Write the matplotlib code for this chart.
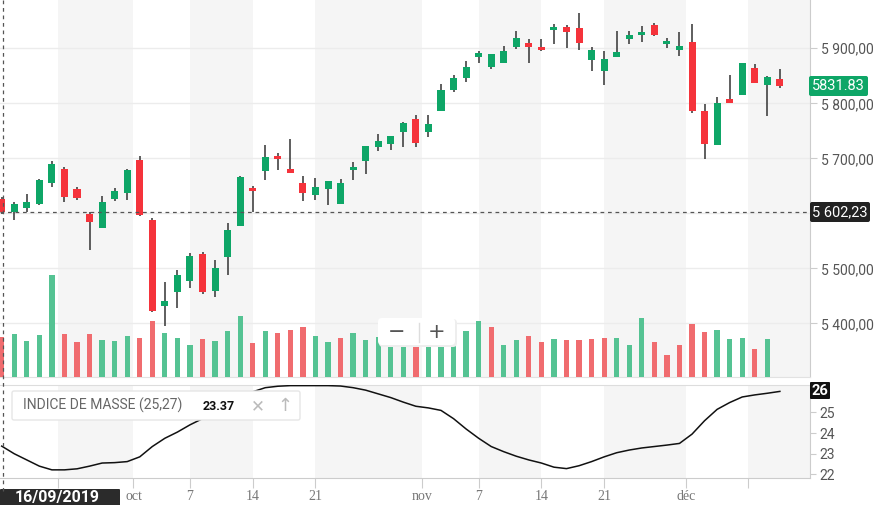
import numpy as np
import pandas as pd
import matplotlib
matplotlib.use('Agg')
import matplotlib.pyplot as plt
from matplotlib.patches import FancyBboxPatch
from matplotlib.lines import Line2D
from matplotlib.transforms import Affine2D

# trading days shown on the chart
dates = pd.bdate_range('2019-09-16', '2019-12-11')

opens = [5626, 5603, 5610, 5617, 5656, 5681, 5644, 5599, 5574, 5626,
         5637, 5697, 5588, 5432, 5457, 5477, 5526, 5459, 5520, 5577,
         5646, 5677, 5705, 5680, 5655, 5634, 5645, 5617, 5679, 5695,
         5721, 5726, 5748, 5771, 5748, 5786, 5824, 5846, 5885, 5866,
         5874, 5903, 5910, 5902, 5934, 5939, 5936, 5879, 5859, 5885,
         5917, 5924, 5942, 5907, 5896, 5911, 5786, 5725, 5807, 5815,
         5865, 5834, 5844]
highs = [5630, 5621, 5635, 5662, 5696, 5685, 5648, 5602, 5631, 5646,
         5680, 5704, 5591, 5475, 5497, 5527, 5530, 5516, 5583, 5668,
         5650, 5724, 5709, 5736, 5667, 5664, 5658, 5662, 5693, 5722,
         5745, 5741, 5766, 5778, 5779, 5835, 5851, 5877, 5895, 5890,
         5905, 5931, 5917, 5916, 5945, 5942, 5965, 5902, 5895, 5931,
         5932, 5940, 5946, 5918, 5929, 5945, 5799, 5812, 5851, 5873,
         5871, 5850, 5862]
lows = [5598, 5588, 5602, 5616, 5647, 5620, 5625, 5533, 5574, 5622,
        5625, 5595, 5421, 5395, 5427, 5465, 5453, 5447, 5488, 5577,
        5602, 5660, 5678, 5674, 5622, 5625, 5615, 5617, 5660, 5672,
        5713, 5716, 5721, 5720, 5739, 5786, 5820, 5838, 5873, 5862,
        5874, 5899, 5874, 5895, 5907, 5900, 5897, 5859, 5834, 5884,
        5908, 5911, 5923, 5900, 5886, 5782, 5698, 5725, 5801, 5815,
        5836, 5777, 5827]
closes = [5603, 5617, 5620, 5660, 5690, 5630, 5628, 5585, 5620, 5640,
          5679, 5597, 5422, 5440, 5488, 5522, 5457, 5500, 5570, 5666,
          5641, 5703, 5698, 5674, 5637, 5648, 5658, 5655, 5685, 5722,
          5731, 5740, 5765, 5728, 5762, 5824, 5846, 5866, 5892, 5889,
          5895, 5919, 5903, 5897, 5939, 5930, 5910, 5896, 5880, 5893,
          5925, 5930, 5925, 5914, 5904, 5786, 5726, 5800, 5801, 5873,
          5837, 5848, 5832]
last_price = 5831.83

# volume (relative units), last session has no bar yet
volumes = [40, 43, 36, 42, 102, 43, 35, 43, 37, 36,
           41, 39, 56, 44, 39, 32, 38, 36, 46, 61,
           34, 46, 44, 47, 50, 41, 35, 39, 44, 37,
           40, 42, 38, 59, 44, 40, 40, 46, 56, 50,
           32, 37, 41, 35, 38, 37, 37, 38, 39, 39,
           32, 59, 35, 22, 32, 53, 45, 47, 38, 39,
           28, 38]
vol_up = [0, 1, 1, 1, 1, 0, 0, 0, 1, 1,
          1, 0, 0, 1, 1, 1, 0, 1, 1, 1,
          0, 1, 0, 0, 0, 1, 1, 0, 1, 1,
          1, 1, 1, 0, 1, 1, 1, 1, 1, 0,
          1, 1, 0, 0, 1, 0, 0, 0, 0, 1,
          1, 1, 0, 0, 0, 0, 0, 1, 1, 1,
          0, 1]

mass_index = [23.37, 23.0, 22.7, 22.4, 22.22, 22.22, 22.27, 22.4, 22.55, 22.57,
              22.62, 22.85, 23.35, 23.75, 24.05, 24.4, 24.7, 25.0, 25.35, 25.7,
              26.0, 26.2, 26.27, 26.3, 26.3, 26.3, 26.3, 26.28, 26.2, 26.08,
              25.9, 25.72, 25.5, 25.3, 25.22, 25.1, 24.7, 24.2, 23.75, 23.35,
              23.1, 22.88, 22.7, 22.55, 22.35, 22.28, 22.42, 22.62, 22.85, 23.05,
              23.18, 23.28, 23.35, 23.42, 23.5, 23.95, 24.6, 25.15, 25.48, 25.75,
              25.85, 25.93, 26.02]

tick_dates = ['2019-09-21', '2019-10-01', '2019-10-07', '2019-10-14', '2019-10-21',
              '2019-11-01', '2019-11-07', '2019-11-14', '2019-11-21',
              '2019-12-01', '2019-12-07']
tick_labels = ['21', 'oct', '7', '14', '21', 'nov', '7', '14', '21', 'déc', '']

price_ticks = [5400, 5500, 5600, 5700, 5800, 5900]
mass_ticks = [22, 23, 24, 25]
cursor_price = 5602.23
cursor_mass = 23.37

GREEN = '#0ea667'
RED = '#f5333b'
VGREEN = '#55c393'
VRED = '#f06c6f'
BAND = '#f5f5f5'

plt.rcParams['font.family'] = ['Roboto', 'DejaVu Sans']


def fr_num(v):
    return f'{v:,.2f}'.replace(',', ' ').replace('.', ',')


W, H = 884, 505
fig = plt.figure(figsize=(W / 100, H / 100), dpi=100)
# pixel transform with origin top-left
T = Affine2D().scale(1, -1).translate(0, H).scale(0.01) + fig.dpi_scale_trans

ax = fig.add_axes([0, 1 - 377 / H, 810 / W, 377 / H])
axm = fig.add_axes([0, 1 - 477.7 / H, 810 / W, (477.7 - 385) / H])

x = np.arange(len(closes))
o = np.array(opens, float)
h = np.array(highs, float)
l = np.array(lows, float)
c = np.array(closes, float)
xlim = (-0.135, 64.4)

# tick positions: between sessions for month starts / weekend dates
tick_pos = []
for d in pd.to_datetime(tick_dates):
    k = dates.searchsorted(d)
    if d.day == 1 or d not in dates:
        tick_pos.append(k - 0.5)
    else:
        tick_pos.append(float(k))

edges = [xlim[0]] + tick_pos + [xlim[1]]
for a in (ax, axm):
    for k in range(len(edges) - 1):
        if k % 2 == 1:
            a.axvspan(edges[k], edges[k + 1], color=BAND, lw=0, zorder=0)
    a.set_xlim(*xlim)

# candles
ax.vlines(x, l, h, color='#333333', lw=1.1, zorder=2)
body = np.maximum(np.abs(c - o), 2.0)
ax.bar(x, body, bottom=np.minimum(o, c), width=0.56,
       color=np.where(c >= o, GREEN, RED), lw=0, zorder=3)
ax.axhline(cursor_price, color='#555555', lw=0.9, ls=(0, (3, 3)), zorder=4)
ax.set_ylim(5302.4, 5987.8)

# volume
axv = ax.twinx()
axv.bar(x[:len(volumes)], volumes, width=0.42,
        color=[VGREEN if u else VRED for u in vol_up], lw=0)
axv.set_ylim(0, max(volumes) * 3.7)
axv.axis('off')

ax.yaxis.tick_right()
ax.set_yticks(price_ticks)
ax.set_yticklabels(['' if v == 5600 else fr_num(v) for v in price_ticks])
ax.tick_params(axis='y', length=5, color='#cccccc', labelsize=10,
               labelcolor='#555555', pad=3)
ax.set_xticks([])
ax.grid(axis='y', color='#ececec', lw=1)
ax.set_axisbelow(True)
for s in ('top', 'left'):
    ax.spines[s].set_visible(False)
ax.spines['right'].set_color('#cccccc')
ax.spines['bottom'].set_color('#e2e2e2')

# mass index panel
axm.plot(x, mass_index, color='#111111', lw=1.1, zorder=3)
axm.set_ylim(21.84, 26.33)
axm.yaxis.tick_right()
axm.set_yticks(mass_ticks)
axm.tick_params(axis='y', length=4, color='#cccccc', labelsize=10,
                labelcolor='#555555', pad=3)
axm.set_xticks(tick_pos)
axm.set_xticklabels(tick_labels)
axm.tick_params(axis='x', length=7, color='#cccccc', labelsize=10,
                labelcolor='#777777', pad=2)
for lbl in axm.get_xticklabels():
    lbl.set_fontfamily(['Liberation Serif', 'DejaVu Serif'])
axm.spines['left'].set_visible(False)
axm.spines['top'].set_color('#dddddd')
axm.spines['bottom'].set_color('#cccccc')
axm.spines['right'].set_color('#cccccc')


# overlays
def box(x0, y0, w, hgt, fc, ec='none', r=2, lw=0):
    fig.add_artist(FancyBboxPatch((x0, y0), w, hgt,
                                  boxstyle=f'round,pad=0,rounding_size={r}',
                                  fc=fc, ec=ec, lw=lw, transform=T))


# crosshair vertical line
fig.add_artist(Line2D([2.7, 2.7], [0, 491], color='#555555', lw=0.9,
                      ls=(0, (3, 3)), transform=T))

# last price badge
box(809, 76, 59, 20, GREEN, r=2)
fig.text(838.5, 86, f'{last_price:.2f}', color='white', fontsize=10.5,
         ha='center', va='center', transform=T)
# cursor price badge
box(810, 202, 60, 20, '#222222', r=2)
fig.text(840, 212, fr_num(cursor_price),
         color='white', fontsize=10.5, ha='center', va='center', transform=T)
# mass index badge
box(810, 382, 20, 17, '#111111', r=1)
fig.text(820, 391, f'{round(mass_index[-1])}', color='white', fontsize=10.5,
         fontweight='bold', ha='center', va='center', transform=T)
# date badge
box(0, 489, 120, 20, '#2b2b2b', r=1)
fig.text(57, 497.5, dates[0].strftime('%d/%m/%Y'), color='white', fontsize=11.5,
         fontweight='bold', family=['Liberation Sans Narrow', 'Roboto'],
         ha='center', va='center', transform=T)

# legend box
box(12, 391, 288, 29, 'white', ec='#e6e6e6', r=2, lw=1)
fig.text(23, 405.5, 'INDICE DE MASSE (25,27)', color='#666666', fontsize=10,
         ha='left', va='center', transform=T)
fig.text(203, 406.5, f'{cursor_mass:.2f}', color='#111111', fontsize=9,
         fontweight='bold', ha='left', va='center', transform=T)
fig.text(258, 406, '✕', color='#bbbbbb', fontsize=12, ha='center', va='center',
         family='DejaVu Sans', transform=T)
fig.text(285, 406, '↑', color='#bbbbbb', fontsize=13, ha='center', va='center',
         family='DejaVu Sans', transform=T)

# zoom buttons
box(379, 319, 78, 28, '#eeeeee', r=4)
box(378, 318, 77, 27, 'white', r=4)
fig.text(397, 332, '−', color='#555555', fontsize=15, ha='center', va='center',
         family='DejaVu Sans', transform=T)
fig.text(437, 332, '+', color='#555555', fontsize=15, ha='center', va='center',
         family='DejaVu Sans', transform=T)
fig.add_artist(Line2D([418.5, 418.5], [323, 342], color='#dddddd', lw=1, transform=T))

fig.savefig('out.png', dpi=100)
